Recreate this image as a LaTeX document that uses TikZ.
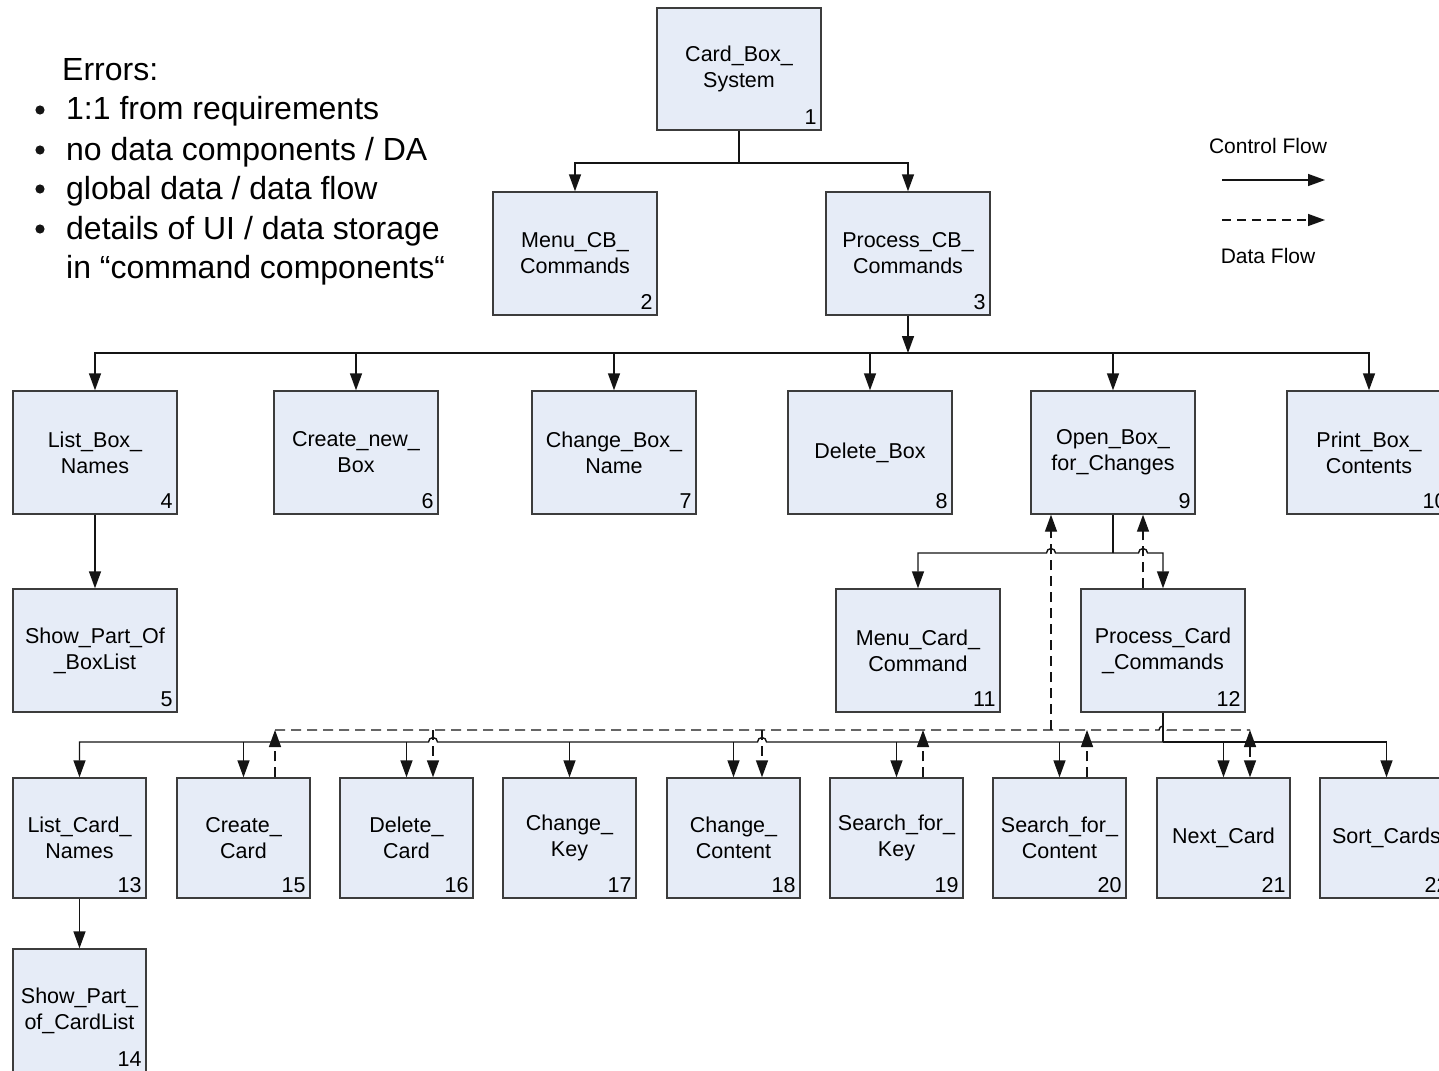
\documentclass[tikz,border=0pt]{standalone}
\usepackage{fontspec}
\setmainfont{Liberation Sans}
\usetikzlibrary{arrows.meta}
\definecolor{boxfill}{RGB}{230,236,247}
\definecolor{boxline}{RGB}{60,60,60}
\definecolor{wire}{RGB}{20,20,20}
\newcommand\bxfont{\fontsize{21.5}{26}\selectfont}
\newcommand\lgfont{\fontsize{21}{25}\selectfont}
\newcommand\erfont{\fontsize{32}{39}\selectfont}

\begin{document}
\begin{tikzpicture}[x=1pt,y=-1pt,
  box/.style={draw=boxline, fill=boxfill, line width=1.4pt,
    minimum width=164pt, minimum height=123pt, inner sep=0pt,
    align=center, font=\bxfont},
  sbox/.style={box, minimum width=133pt, minimum height=120pt},
  num/.style={label={[anchor=south east, inner sep=0pt, xshift=-5pt,
    yshift=6pt, font=\bxfont]south east:#1}},
  ctrl/.style={draw=wire, line width=1.4pt},
  carrow/.style={ctrl, -{Triangle[length=17pt,width=12pt]}},
  data/.style={ctrl, dash pattern=on 10pt off 6pt},
  darrow/.style={data, -{Triangle[length=17pt,width=12pt]}},
  dboth/.style={data, {Triangle[length=17pt,width=12pt]}-{Triangle[length=17pt,width=12pt]}},
  lgtext/.style={font=\lgfont, inner sep=0pt},
  ertext/.style={font=\erfont, anchor=base west, inner sep=0pt}
]
\path[use as bounding box] (0,0) rectangle (1439,1070);
\clip (0,0) rectangle (1439,1070);
\fill[white] (0,0) rectangle (1439,1070);

% ---- error notes ----
\node[ertext] (err) at (62,81) {Errors:};
\node[ertext] (e1) at (66,120) {1:1 from requirements};
\node[ertext] (e2) at (66,160) {no data components / DA};
\node[ertext] (e3) at (66,199) {global data / data flow};
\node[ertext] (e4) at (66,239) {details of UI / data storage};
\node[ertext] (e5) at (66,278) {in “command components“};
\foreach \yy in {110,150,189,229} \fill[wire] (40,\yy) circle (4.6pt);

% ---- legend ----
\node[lgtext] (lgc) at (1268,146) {Control Flow};
\coordinate (lc1) at (1222,180);
\coordinate (lc2) at (1325,180);
\draw[carrow] (lc1) -- (lc2);
\coordinate (ld1) at (1222,220);
\coordinate (ld2) at (1325,220);
\draw[darrow, dash pattern=on 9pt off 6pt] (ld1) -- (ld2);
\node[lgtext] (lgd) at (1268,256) {Data Flow};

% ---- level 0 and 1 ----
\node[box, minimum height=122pt, num=1] (n1) at (739,69) {Card\_Box\_\\System};
\node[box, num=2] (n2) at (575,253.5) {Menu\_CB\_\\Commands};
\node[box, num=3] (n3) at (908,253.5) {Process\_CB\_\\Commands};

% ---- level 2 ----
\node[box, num=4] (n4) at (95,452.5) {List\_Box\_\\Names};
\node[box, num=6] (n6) at (356,452.5) {Create\_new\_\\Box};
\node[box, num=7] (n7) at (614,452.5) {Change\_Box\_\\Name};
\node[box, num=8] (n8) at (870,452.5) {Delete\_Box};
\node[box, num=9] (n9) at (1113,452.5) {Open\_Box\_\\for\_Changes};
\node[box, num=10] (n10) at (1369,452.5) {Print\_Box\_\\Contents};
\node[box, num=5] (n5) at (95,650.5) {Show\_Part\_Of\\\_BoxList};
\node[box, num=11] (n11) at (918,650.5) {Menu\_Card\_\\Command};
\node[box, num=12] (n12) at (1163,650.5) {Process\_Card\\\_Commands};

% ---- level 3 ----
\node[sbox, num=13] (n13) at (79.5,838) {List\_Card\_\\Names};
\node[sbox, num=15] (n15) at (243.5,838) {Create\_\\Card};
\node[sbox, num=16] (n16) at (406.5,838) {Delete\_\\Card};
\node[sbox, num=17] (n17) at (569.5,838) {Change\_\\Key};
\node[sbox, num=18] (n18) at (733.5,838) {Change\_\\Content};
\node[sbox, num=19] (n19) at (896.5,838) {Search\_for\_\\Key};
\node[sbox, num=20] (n20) at (1059.5,838) {Search\_for\_\\Content};
\node[sbox, num=21] (n21) at (1223.5,838) {Next\_Card};
\node[sbox, num=22] (n22) at (1386.5,838) {Sort\_Cards};
\node[sbox, minimum height=123pt, num=14] (n14) at (79.5,1010.5) {Show\_Part\_\\of\_CardList};

% ---- control flow: top ----
\coordinate (b1) at (739,163);
\draw[ctrl] (n1.south) -- (b1);
\draw[carrow] (b1) -| (n2.north);
\draw[carrow] (b1) -| (n3.north);

% ---- control flow: level 2 bus ----
\coordinate (b2) at (908,353);
\draw[carrow] (n3.south) -- (b2);
\foreach \n in {n4,n6,n7,n8,n9,n10}
  \draw[carrow] (b2) -| (\n.north);
\draw[carrow] (n4.south) -- (n5.north);

% ---- control flow: below Open_Box (hops over data lines) ----
\coordinate (b3) at (1113,553);
\draw[ctrl] (n9.south) -- (b3);
\draw[carrow] (b3) -- (1055.5,553) arc[start angle=0, end angle=180, radius=4.5pt] -| (n11.north);
\draw[carrow] (b3) -- (1138.5,553) arc[start angle=180, end angle=0, radius=4.5pt] -| (n12.north);

% ---- control flow: level 3 bus ----
\coordinate (b4) at (1163,742);
\draw[ctrl] (n12.south) -- (b4);
\draw[carrow] (b4) -- (766.5,742) arc[start angle=0, end angle=180, radius=4.5pt]
  -- (437.5,742) arc[start angle=0, end angle=180, radius=4.5pt] -| (n13.north);
\foreach \n in {n15,n16,n17,n18,n19,n20,n21}
  \draw[carrow] (\n.north |- b4) -- (\n.north);
\draw[carrow] (b4) -| (n22.north);
\draw[carrow] (n13.south) -- (n14.north);

% ---- data flow ----
\coordinate (dL) at (275,730);
\coordinate (dR) at (1250,730);
\draw[data] (dL) -- (1159,730) arc[start angle=180, end angle=0, radius=4pt] -- (dR);
\draw[darrow] (dL |- n15.north) -- (dL);
\coordinate (d16) at (433,730);
\draw[darrow] (d16) -- (d16 |- n16.north);
\coordinate (d18) at (762,730);
\draw[darrow] (d18) -- (d18 |- n18.north);
\coordinate (d19) at (923,730);
\draw[darrow] (d19 |- n19.north) -- (d19);
\coordinate (d20) at (1087,730);
\draw[darrow] (d20 |- n20.north) -- (d20);
\draw[dboth] (dR) -- (dR |- n21.north);
\coordinate (dA) at (1051,730);
\draw[darrow] (dA) -- (dA |- n9.south);
\coordinate (dB) at (1143,600);
\draw[darrow] (dB |- n12.north) -- (dB |- n9.south);
\end{tikzpicture}
\end{document}
